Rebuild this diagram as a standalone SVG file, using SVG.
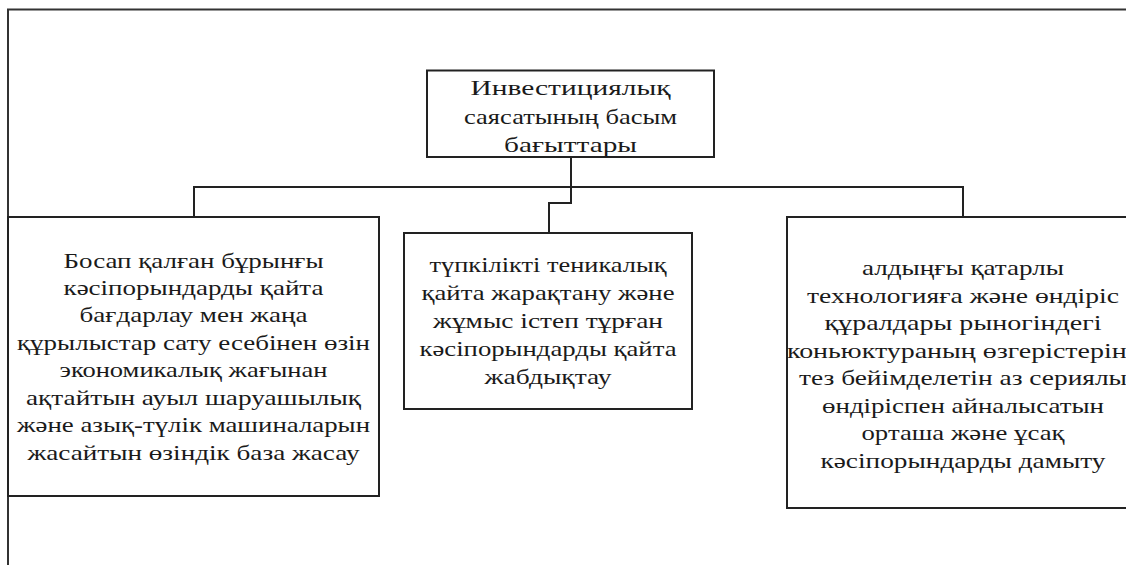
<svg xmlns="http://www.w3.org/2000/svg" width="1126" height="565" viewBox="0 0 1126 565">
<style>
.box{fill:#fff;stroke:#222;stroke-width:2}
.ln{fill:none;stroke:#222;stroke-width:2}
.fr{fill:none;stroke:#333;stroke-width:2}
text{font-family:"Liberation Serif","DejaVu Serif",serif;font-size:22px;fill:#1a1a1a;text-anchor:middle}
</style>
<rect width="1126" height="565" fill="#fff"/>
<g id="frame">
<polyline class="fr" points="8,565 8,9.5 1126,9.5"/>
</g>
<g id="connectors">
<polyline class="ln" points="571,157 571,187"/>
<polyline class="ln" points="194,217 194,187 963,187 963,217"/>
<polyline class="ln" points="571,187 571,203 549,203 549,233"/>
</g>
<g id="top">
<rect class="box" x="427" y="70.5" width="287" height="86.5"/>
<text x="570.5" y="95" textLength="200" lengthAdjust="spacingAndGlyphs">Инвестициялық</text>
<text x="570.5" y="124" textLength="213" lengthAdjust="spacingAndGlyphs">саясатының басым</text>
<text x="570.5" y="152" textLength="133" lengthAdjust="spacingAndGlyphs">бағыттары</text>
</g>
<g id="left">
<rect class="box" x="8" y="217" width="371" height="279"/>
<text x="193.5" y="268" textLength="260" lengthAdjust="spacingAndGlyphs">Босап қалған бұрынғы</text>
<text x="193.5" y="295" textLength="260" lengthAdjust="spacingAndGlyphs">кәсіпорындарды қайта</text>
<text x="193.5" y="322" textLength="228" lengthAdjust="spacingAndGlyphs">бағдарлау мен жаңа</text>
<text x="193.5" y="349.5" textLength="353" lengthAdjust="spacingAndGlyphs">құрылыстар сату есебінен өзін</text>
<text x="193.5" y="377" textLength="268" lengthAdjust="spacingAndGlyphs">экономикалық жағынан</text>
<text x="193.5" y="404.5" textLength="335" lengthAdjust="spacingAndGlyphs">ақтайтын ауыл шаруашылық</text>
<text x="193.5" y="432" textLength="353" lengthAdjust="spacingAndGlyphs">және азық-түлік машиналарын</text>
<text x="193.5" y="459.5" textLength="332" lengthAdjust="spacingAndGlyphs">жасайтын өзіндік база жасау</text>
</g>
<g id="middle">
<rect class="box" x="404" y="233" width="288" height="176"/>
<text x="548" y="272" textLength="237" lengthAdjust="spacingAndGlyphs">түпкілікті теникалық</text>
<text x="548" y="300" textLength="253" lengthAdjust="spacingAndGlyphs">қайта жарақтану және</text>
<text x="548" y="328" textLength="230" lengthAdjust="spacingAndGlyphs">жұмыс істеп тұрған</text>
<text x="548" y="356" textLength="257" lengthAdjust="spacingAndGlyphs">кәсіпорындарды қайта</text>
<text x="548" y="384" textLength="127" lengthAdjust="spacingAndGlyphs">жабдықтау</text>
</g>
<g id="right">
<rect class="box" x="787" y="217" width="360" height="291"/>
<text x="963" y="275" textLength="202" lengthAdjust="spacingAndGlyphs">алдыңғы қатарлы</text>
<text x="963" y="302.5" textLength="312" lengthAdjust="spacingAndGlyphs">технологияға және өндіріс</text>
<text x="963" y="330" textLength="277" lengthAdjust="spacingAndGlyphs">құралдары рыногіндегі</text>
<text x="963" y="357.5" textLength="352" lengthAdjust="spacingAndGlyphs">коньюктураның өзгерістеріне</text>
<text x="963" y="385" textLength="328" lengthAdjust="spacingAndGlyphs">тез бейімделетін аз сериялы</text>
<text x="963" y="412.5" textLength="282" lengthAdjust="spacingAndGlyphs">өндіріспен айналысатын</text>
<text x="963" y="440" textLength="203" lengthAdjust="spacingAndGlyphs">орташа және ұсақ</text>
<text x="963" y="467.5" textLength="285" lengthAdjust="spacingAndGlyphs">кәсіпорындарды дамыту</text>
</g>
</svg>
